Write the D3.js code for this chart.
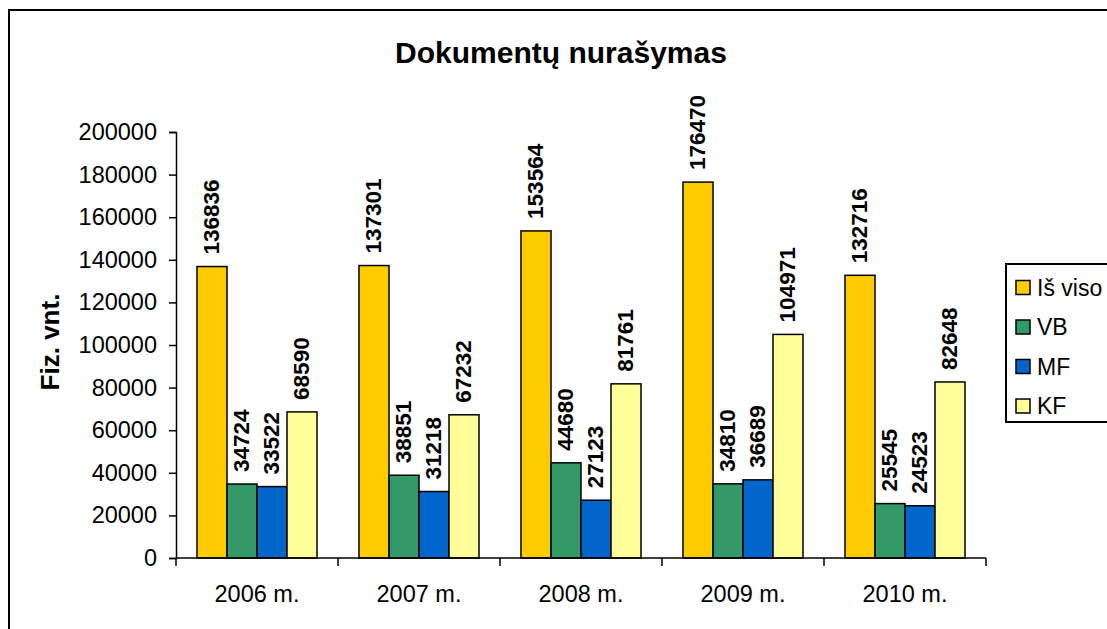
<!DOCTYPE html>
<html>
<head>
<meta charset="utf-8">
<script src="https://cdn.jsdelivr.net/npm/d3@7"></script>
<style>
  body { margin: 0; background: #fff; }
  svg { display: block; font-family: "Liberation Sans", Arial, sans-serif; }
</style>
</head>
<body>
<div id="chart"></div>
<script>
const years = ["2006 m.", "2007 m.", "2008 m.", "2009 m.", "2010 m."];
const seriesNames = ["Iš viso", "VB", "MF", "KF"];
const isViso = [136836, 137301, 153564, 176470, 132716];
const vb = [34724, 38851, 44680, 34810, 25545];
const mf = [33522, 31218, 27123, 36689, 24523];
const kf = [68590, 67232, 81761, 104971, 82648];
const yTicks = [0, 20000, 40000, 60000, 80000, 100000, 120000, 140000, 160000, 180000, 200000];
const colors = ["#FFCC00", "#339966", "#0066CC", "#FFFF99"];

const seriesValues = [isViso, vb, mf, kf];
const width = 1107, height = 629;

const svg = d3.select('#chart').append('svg')
  .attr('width', width)
  .attr('height', height);

// outer frame (runs off the right and bottom edge)
svg.append('rect')
  .attr('x', 9).attr('y', 10)
  .attr('width', 1130).attr('height', 660)
  .attr('fill', 'none').attr('stroke', '#000').attr('stroke-width', 2);

// title
svg.append('text')
  .attr('x', 561).attr('y', 63)
  .attr('text-anchor', 'middle')
  .attr('font-size', '30px').attr('font-weight', 'bold')
  .text('Dokumentų nurašymas');

const plot = { left: 176, right: 986, top: 132, bottom: 558 };

const x0 = d3.scaleBand().domain(years).range([plot.left, plot.right]).padding(0);
const x1 = d3.scaleBand().domain(seriesNames).range([0, x0.bandwidth()])
  .paddingInner(0).paddingOuter(0.7);
const y = d3.scaleLinear().domain([0, 200000]).range([plot.bottom, plot.top]);

// bars
const groups = svg.append('g').selectAll('g')
  .data(years)
  .join('g')
  .attr('transform', d => `translate(${x0(d)},0)`);

groups.selectAll('rect')
  .data((d, i) => seriesNames.map((s, j) => ({ s, j, v: seriesValues[j][i] })))
  .join('rect')
  .attr('x', d => x1(d.s))
  .attr('y', d => y(d.v))
  .attr('width', x1.bandwidth())
  .attr('height', d => y(0) - y(d.v))
  .attr('fill', d => colors[d.j])
  .attr('stroke', '#000')
  .attr('stroke-width', 1.5);

// value labels, rotated
groups.selectAll('text')
  .data((d, i) => seriesNames.map((s, j) => ({ s, j, v: seriesValues[j][i] })))
  .join('text')
  .attr('transform', d => `translate(${x1(d.s) + x1.bandwidth() / 2 + 6.5},${y(d.v) - 12}) rotate(-90)`)
  .attr('font-size', '22.5px').attr('font-weight', 'bold')
  .text(d => d.v);

// y axis
const yAxis = svg.append('g')
  .attr('transform', `translate(${plot.left},0)`)
  .call(d3.axisLeft(y).tickValues(yTicks).tickSize(7).tickPadding(12).tickFormat(d3.format('d')));
yAxis.select('.domain').attr('stroke', '#000').attr('stroke-width', 1.5);
yAxis.selectAll('.tick line').attr('stroke', '#000').attr('stroke-width', 1.5);
yAxis.selectAll('.tick text').attr('font-size', '23.5px').attr('font-family', '"Liberation Sans", Arial, sans-serif').attr('fill', '#000');

// x axis: ticks at category boundaries
const xAxisG = svg.append('g');
xAxisG.append('line')
  .attr('x1', plot.left).attr('x2', plot.right)
  .attr('y1', plot.bottom).attr('y2', plot.bottom)
  .attr('stroke', '#000').attr('stroke-width', 1.5);
const bounds = years.map(d => x0(d)).concat([plot.right]);
xAxisG.selectAll('line.tk')
  .data(bounds)
  .join('line')
  .attr('class', 'tk')
  .attr('x1', d => d).attr('x2', d => d)
  .attr('y1', plot.bottom).attr('y2', plot.bottom + 8)
  .attr('stroke', '#000').attr('stroke-width', 1.5);
xAxisG.selectAll('text')
  .data(years)
  .join('text')
  .attr('x', d => x0(d) + x0.bandwidth() / 2)
  .attr('y', 602)
  .attr('text-anchor', 'middle')
  .attr('font-size', '23.5px')
  .text(d => d);

// y axis title
svg.append('text')
  .attr('transform', 'translate(59,342) rotate(-90)')
  .attr('text-anchor', 'middle')
  .attr('font-size', '26px').attr('font-weight', 'bold')
  .text('Fiz. vnt.');

// legend
const legend = svg.append('g');
legend.append('rect')
  .attr('x', 1006).attr('y', 264)
  .attr('width', 140).attr('height', 158)
  .attr('fill', '#fff').attr('stroke', '#000').attr('stroke-width', 2);
const items = legend.selectAll('g.item')
  .data(seriesNames)
  .join('g')
  .attr('class', 'item')
  .attr('transform', (d, i) => `translate(1016,${287.5 + i * 39.5})`);
items.append('rect')
  .attr('x', 0).attr('y', -7)
  .attr('width', 14).attr('height', 14)
  .attr('fill', (d, i) => colors[i])
  .attr('stroke', '#000').attr('stroke-width', 1.5);
items.append('text')
  .attr('x', 21).attr('y', 8)
  .attr('font-size', '23px')
  .text(d => d);
</script>
</body>
</html>
